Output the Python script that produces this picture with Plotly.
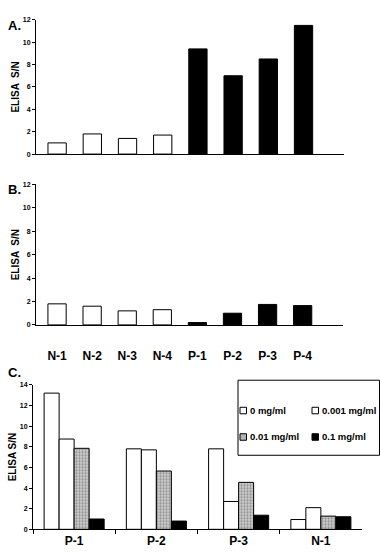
import plotly.graph_objects as go

# ---- data ----
samples_ab = ["N-1", "N-2", "N-3", "N-4", "P-1", "P-2", "P-3", "P-4"]
panel_a_values = [1.0, 1.8, 1.4, 1.7, 9.4, 7.0, 8.5, 11.5]
panel_b_values = [1.8, 1.6, 1.2, 1.3, 0.2, 1.0, 1.75, 1.65]

samples_c = ["P-1", "P-2", "P-3", "N-1"]
conc_labels = ["0 mg/ml", "0.001 mg/ml", "0.01 mg/ml", "0.1 mg/ml"]
conc_0 = [13.2, 7.8, 7.8, 0.95]
conc_0001 = [8.75, 7.7, 2.7, 2.1]
conc_001 = [7.85, 5.65, 4.55, 1.28]
conc_01 = [1.0, 0.8, 1.37, 1.22]

ticks_ab = [0, 2, 4, 6, 8, 10, 12]
ticks_c = [0, 2, 4, 6, 8, 10, 12, 14]

W, H = 380, 558
FONT = "Liberation Sans, Arial, sans-serif"

def px_x(p):
    return p / W

def px_y(p):
    return 1 - p / H

ab_colors = ["black" if s.startswith("P") else "white" for s in samples_ab]

fig = go.Figure()

fig.add_trace(go.Bar(x=samples_ab, y=panel_a_values, width=0.52,
                     marker=dict(color=ab_colors, line=dict(color="black", width=1)),
                     xaxis="x", yaxis="y", showlegend=False))
fig.add_trace(go.Bar(x=samples_ab, y=panel_b_values, width=0.52,
                     marker=dict(color=ab_colors, line=dict(color="black", width=1)),
                     xaxis="x2", yaxis="y2", showlegend=False))

c_series = [conc_0, conc_0001, conc_001, conc_01]
c_styles = [
    dict(color="white", line=dict(color="black", width=1)),
    dict(color="white", line=dict(color="black", width=1)),
    dict(color="#c8c8c8", line=dict(color="black", width=1),
         pattern=dict(shape=".", fgcolor="#555555", bgcolor="#d0d0d0", size=3, solidity=0.45)),
    dict(color="black", line=dict(color="black", width=1)),
]
for name, vals, st in zip(conc_labels, c_series, c_styles):
    fig.add_trace(go.Bar(x=samples_c, y=vals, name=name, marker=st,
                         xaxis="x3", yaxis="y3", showlegend=False))

axis_common = dict(showline=True, linecolor="black", linewidth=1, showgrid=False,
                   zeroline=False, mirror=False)
ytick_font = dict(family=FONT, size=7, color="black", weight="bold")
cat_font = dict(family=FONT, size=12, color="black", weight="bold")
title_font = dict(family=FONT, size=10, color="black", weight="bold")

fig.update_layout(
    width=W, height=H,
    margin=dict(l=0, r=0, t=0, b=0),
    paper_bgcolor="white", plot_bgcolor="white",
    barmode="group", bargap=0.27, bargroupgap=0,
    font=dict(family=FONT, color="black"),
    xaxis=dict(domain=[px_x(36), px_x(344)], anchor="y", range=[-0.6, 8.15],
               showticklabels=False, ticks="", **axis_common),
    yaxis=dict(domain=[px_y(152), px_y(16)], anchor="x", range=[0, 12],
               tickvals=ticks_ab, ticks="outside", ticklen=3, tickcolor="black",
               tickfont=ytick_font, title=dict(text="ELISA  S/N", font=title_font, standoff=1),
               **axis_common),
    xaxis2=dict(domain=[px_x(36), px_x(343)], anchor="y2", range=[-0.6, 8.15],
                ticks="", tickfont=cat_font, ticklabelstandoff=20, **axis_common),
    yaxis2=dict(domain=[px_y(325), px_y(182.7)], anchor="x2", range=[0, 12],
                tickvals=ticks_ab, ticks="outside", ticklen=3, tickcolor="black",
                tickfont=ytick_font, title=dict(text="ELISA  S/N", font=title_font, standoff=1),
                **axis_common),
    xaxis3=dict(domain=[px_x(33), px_x(362)], anchor="y3", range=[-0.5, 3.5],
                ticks="outside", tickson="boundaries", ticklen=4, tickcolor="black",
                tickfont=cat_font, **axis_common),
    yaxis3=dict(domain=[px_y(532), px_y(385.7)], anchor="x3", range=[0, 14],
                tickvals=ticks_c, ticks="outside", ticklen=3, tickcolor="black",
                tickfont=ytick_font, title=dict(text="ELISA S/N", font=title_font, standoff=1),
                **axis_common),
)

# panel letters
panel_font = dict(family=FONT, size=13, color="black", weight="bold")
for txt, yy in [("A.", 22), ("B.", 188), ("C.", 373)]:
    fig.add_annotation(text=txt, x=px_x(6), y=px_y(yy), xref="paper", yref="paper",
                       xanchor="left", yanchor="middle", showarrow=False, font=panel_font)

# legend box (drawn manually to match the reference layout)
fig.add_shape(type="rect", xref="paper", yref="paper",
              x0=px_x(238), x1=px_x(379.5), y0=px_y(457), y1=px_y(381),
              line=dict(color="black", width=1), fillcolor="white", layer="above")
leg_font = dict(family=FONT, size=9.5, color="black", weight="bold")
leg_pos = [(240, 411.7), (312, 411.7), (240, 438.5), (312, 438.5)]
leg_fill = ["white", "white", "#b4b4b4", "black"]
for (lx, ly), name, fc in zip(leg_pos, conc_labels, leg_fill):
    fig.add_shape(type="rect", xref="paper", yref="paper",
                  x0=px_x(lx), x1=px_x(lx + 6.5), y0=px_y(ly + 3.3), y1=px_y(ly - 3.3),
                  line=dict(color="black", width=1), fillcolor=fc, layer="above")
    fig.add_annotation(text=name, x=px_x(lx + 7.5), y=px_y(ly), xref="paper", yref="paper",
                       xanchor="left", yanchor="middle", showarrow=False, font=leg_font)

fig.write_html("out.html")
